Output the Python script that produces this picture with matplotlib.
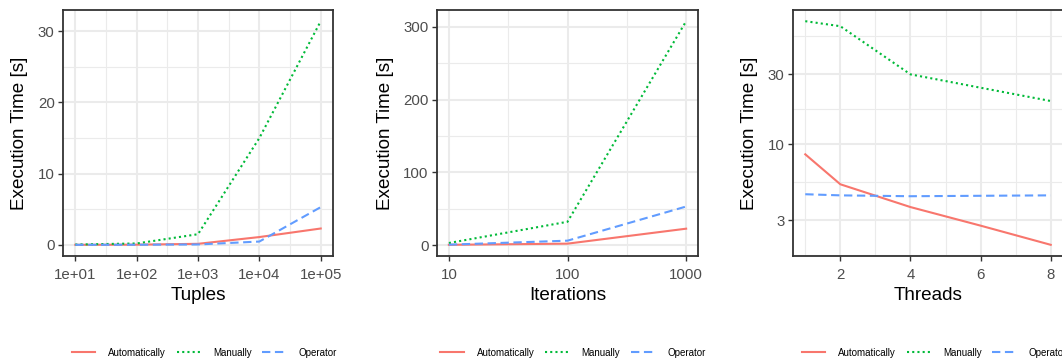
import numpy as np
import matplotlib
matplotlib.use("Agg")
import matplotlib.pyplot as plt
from matplotlib.ticker import FixedLocator, FuncFormatter, NullFormatter

plt.rcParams['font.family'] = ['Liberation Sans', 'DejaVu Sans']

# runtime vs. number of tuples
tuples = [10, 100, 1000, 10000, 100000]
tuples_auto = [0.01, 0.03, 0.15, 1.1, 2.3]
tuples_manual = [0.05, 0.2, 1.5, 15.0, 31.4]
tuples_operator = [0.01, 0.02, 0.06, 0.47, 5.3]

# runtime vs. number of iterations
iterations = [10, 100, 1000]
iter_auto = [0.3, 1.9, 22.5]
iter_manual = [2.8, 32.0, 308.0]
iter_operator = [0.5, 6.0, 53.0]

# runtime vs. number of threads
threads = [1, 2, 4, 6, 8]
thr_auto = [8.5, 5.3, 3.7, 2.76, 2.04]
thr_manual = [69.4, 64.1, 30.0, 24.3, 19.7]
thr_operator = [4.53, 4.45, 4.39, 4.42, 4.45]

series_names = ['Automatically', 'Manually', 'Operator']
colors = ['#F8766D', '#00BA38', '#619CFF']
dashes = [None, (1.0, 1.5), (4.0, 2.2)]

W, H = 1062, 359
fig = plt.figure(figsize=(W / 100, H / 100), dpi=100)


def add_panel(left, right, top=10, bottom=256):
    return fig.add_axes([left / W, (H - bottom) / H, (right - left) / W, (bottom - top) / H])


def style_panel(ax):
    for s in ax.spines.values():
        s.set_color('#333333')
        s.set_linewidth(1.3)
    ax.set_axisbelow(True)
    ax.grid(which='major', color='#EBEBEB', linewidth=1.5)
    ax.grid(which='minor', color='#EBEBEB', linewidth=0.8)
    ax.tick_params(which='major', length=3.5, width=1.0, color='#333333',
                   labelcolor='#4D4D4D', labelsize=10.8, pad=2.5)
    ax.tick_params(axis='x', which='major', pad=5)
    ax.tick_params(which='minor', length=0)
    ax.margins(x=0.05, y=0.05)


def draw_lines(ax, x, ys):
    handles = []
    for y, name, c, d in zip(ys, series_names, colors, dashes):
        ln, = ax.plot(x, y, color=c, linewidth=1.5, label=name)
        if d is not None:
            ln.set_dashes(d)
        handles.append(ln)
    return handles


def add_legend(ax, handles, xc):
    ax.legend(handles=handles, loc='center', bbox_to_anchor=(xc / W, (H - 352.5) / H),
              bbox_transform=fig.transFigure, ncol=3, frameon=False, fontsize=7,
              handlelength=2.4, handletextpad=1.35, columnspacing=1.1,
              borderaxespad=0, borderpad=0)


def label_panel(ax, xlabel):
    ax.set_xlabel(xlabel, fontsize=13.6, labelpad=4)
    ax.set_ylabel('Execution Time [s]', fontsize=13.6, labelpad=7)


# Tuples
ax1 = add_panel(63, 333)
h = draw_lines(ax1, tuples, [tuples_auto, tuples_manual, tuples_operator])
ax1.set_xscale('log')
style_panel(ax1)
ax1.xaxis.set_major_locator(FixedLocator(tuples))
ax1.xaxis.set_major_formatter(FuncFormatter(lambda v, p: '%.0e' % v if v >= 1 else ''))
ax1.xaxis.set_minor_locator(FixedLocator([10 ** 1.5, 10 ** 2.5, 10 ** 3.5, 10 ** 4.5]))
ax1.xaxis.set_minor_formatter(NullFormatter())
ax1.yaxis.set_major_locator(FixedLocator([0, 10, 20, 30]))
ax1.yaxis.set_minor_locator(FixedLocator([5, 15, 25]))
label_panel(ax1, 'Tuples')
add_legend(ax1, h, 204.5)

# Iterations
ax2 = add_panel(437, 698)
h = draw_lines(ax2, iterations, [iter_auto, iter_manual, iter_operator])
ax2.set_xscale('log')
style_panel(ax2)
ax2.xaxis.set_major_locator(FixedLocator(iterations))
ax2.xaxis.set_major_formatter(FuncFormatter(lambda v, p: '%d' % v))
ax2.xaxis.set_minor_locator(FixedLocator([10 ** 1.5, 10 ** 2.5]))
ax2.xaxis.set_minor_formatter(NullFormatter())
ax2.yaxis.set_major_locator(FixedLocator([0, 100, 200, 300]))
ax2.yaxis.set_minor_locator(FixedLocator([50, 150, 250]))
label_panel(ax2, 'Iterations')
add_legend(ax2, h, 573)

# Threads
ax3 = add_panel(793, 1063)
h = draw_lines(ax3, threads, [thr_auto, thr_manual, thr_operator])
ax3.set_yscale('log')
style_panel(ax3)
ax3.xaxis.set_major_locator(FixedLocator([2, 4, 6, 8]))
ax3.xaxis.set_minor_locator(FixedLocator([1, 3, 5, 7]))
ax3.yaxis.set_major_locator(FixedLocator([1, 3, 10, 30, 100]))
ax3.yaxis.set_major_formatter(FuncFormatter(lambda v, p: '%g' % v))
ax3.yaxis.set_minor_locator(FixedLocator([np.sqrt(3), np.sqrt(30), np.sqrt(300), np.sqrt(3000)]))
ax3.yaxis.set_minor_formatter(NullFormatter())
label_panel(ax3, 'Threads')
add_legend(ax3, h, 934.5)

fig.savefig('out.png', dpi=100)
